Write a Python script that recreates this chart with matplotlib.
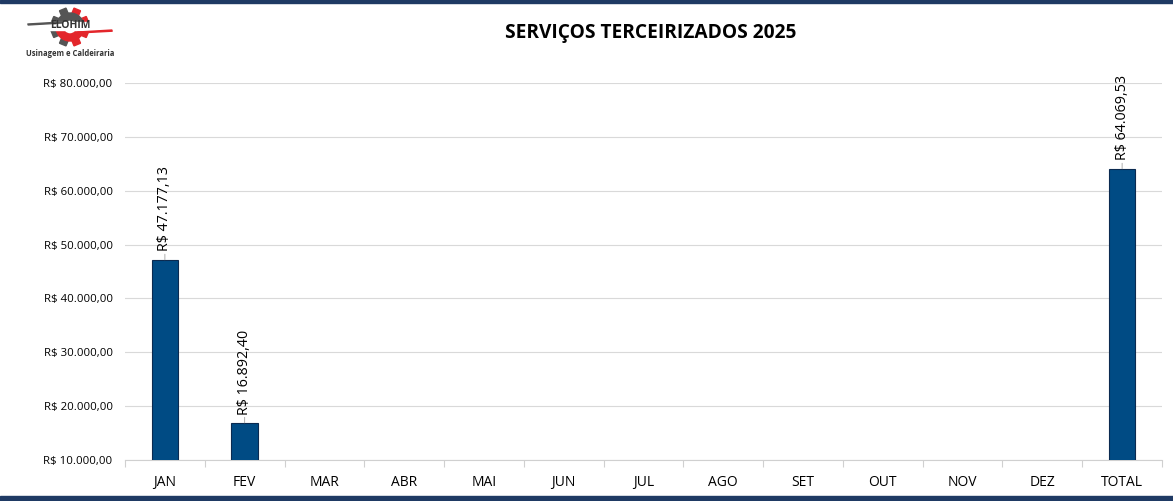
import numpy as np
import matplotlib.pyplot as plt
from matplotlib.patches import Rectangle, Polygon, Wedge

meses = ["JAN", "FEV", "MAR", "ABR", "MAI", "JUN", "JUL", "AGO", "SET", "OUT", "NOV", "DEZ", "TOTAL"]
valores = [47177.13, 16892.40, 0, 0, 0, 0, 0, 0, 0, 0, 0, 0, 64069.53]
rotulos = ["R$ 47.177,13", "R$ 16.892,40", "", "", "", "", "", "", "", "", "", "", "R$ 64.069,53"]
yticks = [10000, 20000, 30000, 40000, 50000, 60000, 70000, 80000]
ytick_labels = ["R$ 10.000,00", "R$ 20.000,00", "R$ 30.000,00", "R$ 40.000,00",
                "R$ 50.000,00", "R$ 60.000,00", "R$ 70.000,00", "R$ 80.000,00"]

plt.rcParams['font.family'] = ['Open Sans', 'DejaVu Sans']

fig = plt.figure(figsize=(11.73, 5.01), dpi=100)
ax = fig.add_axes([125/1173, 41/501, 1037/1173, 377/501])

x = np.arange(len(meses))
ax.bar(x, valores, width=0.33, color="#004b84", edgecolor="#0b2a50", linewidth=0.8, zorder=3)

ax.set_xlim(-0.5, len(meses) - 0.5)
ax.set_ylim(10000, 80000)
ax.set_yticks(yticks)
ax.set_yticklabels(ytick_labels, fontsize=8.2)
ax.set_xticks(x)
ax.set_xticklabels(meses, fontsize=10)
ax.set_xticks(np.arange(-0.5, len(meses)), minor=True)
ax.tick_params(axis='x', which='major', length=0, pad=11)
ax.tick_params(axis='x', which='minor', length=5, color="#d0d0d0", width=0.8)
ax.tick_params(axis='y', length=0, pad=9)
ax.grid(axis='y', color="#d9d9d9", linewidth=0.8, zorder=0)
for s in ["top", "right", "left"]:
    ax.spines[s].set_visible(False)
ax.spines["bottom"].set_color("#d0d0d0")
ax.spines["bottom"].set_linewidth(0.8)

for xi, v, r in zip(x, valores, rotulos):
    if r:
        ax.annotate(r, xy=(xi, v), xytext=(0, 6), textcoords="offset points",
                    rotation=90, ha="center", va="bottom", fontsize=10.3,
                    annotation_clip=False,
                    arrowprops=dict(arrowstyle="-", color="#a0a0a0", lw=0.6,
                                    shrinkA=0, shrinkB=0))

fig.text(651/1173, 1 - 33/501, "SERVIÇOS TERCEIRIZADOS 2025", ha="center", va="center",
         fontsize=13.8, fontweight="bold")

# frame lines top and bottom
fig.add_artist(Rectangle((0, 1 - 3/501), 1, 3/501, transform=fig.transFigure,
                         color="#1f3a64", zorder=10))
fig.add_artist(Rectangle((0, 0), 1, 5/501, transform=fig.transFigure,
                         color="#1f3a64", zorder=10))

# logo
lg = fig.add_axes([0, 1 - 62/501, 140/1173, 62/501])
lg.set_xlim(0, 140)
lg.set_ylim(62, 0)
lg.axis("off")
cx, cy = 70, 27
for ang in range(0, 360, 45):
    a = np.deg2rad(ang + 22.5)
    col = "#555555" if np.sin(a) < 0 else "#e3262b"
    pts = np.array([[-3.5, -19], [3.5, -19], [3.5, -12], [-3.5, -12]])
    rot = np.array([[np.cos(a), -np.sin(a)], [np.sin(a), np.cos(a)]])
    pts = pts @ rot.T + [cx, cy]
    lg.add_patch(Polygon(pts, color=col))
lg.add_patch(Wedge((cx, cy), 14, 180, 360, width=7, color="#555555"))
lg.add_patch(Wedge((cx, cy), 14, 0, 180, width=7, color="#e3262b"))
lg.add_patch(Rectangle((cx - 22, cy - 5), 44, 8, color="white"))
lg.add_patch(Polygon([[28, 24], [62, 22], [62, 23], [28, 25]], color="#555555"))
lg.add_patch(Polygon([[78, 32], [112, 30], [112, 31.2], [78, 33]], color="#e3262b"))
lg.text(cx, cy - 1, "ELOHIM", ha="center", va="center", fontsize=7.5, fontweight="bold",
        color="#333333")
lg.text(cx, 54, "Usinagem e Caldeiraria", ha="center", va="center", fontsize=5.5,
        color="#333333", fontweight="bold")

fig.savefig("out.png", dpi=100)
